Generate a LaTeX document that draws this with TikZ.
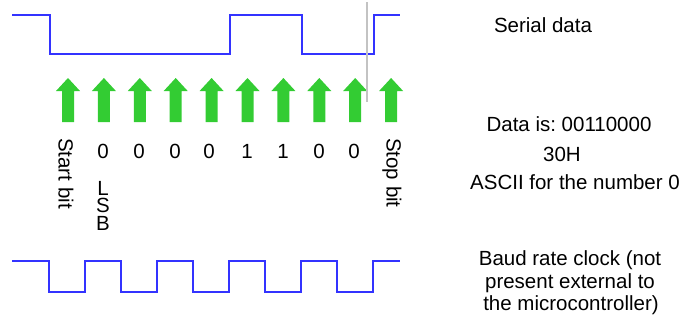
\documentclass[tikz,border=0pt]{standalone}
\usepackage{fontspec}
\setmainfont{Liberation Sans}
\usetikzlibrary{positioning}
\definecolor{wireblue}{RGB}{51,51,255}
\definecolor{arrowgreen}{RGB}{51,204,51}
\definecolor{markgray}{RGB}{195,195,195}
\frenchspacing

\begin{document}
\begin{tikzpicture}[x=1pt, y=-1pt, font=\fontsize{20.5}{24}\selectfont,
  wave/.style={draw=wireblue, line width=2pt},
  txt/.style={anchor=base, inner sep=0pt},
  sidetxt/.style={rotate=-90, anchor=west, inner sep=0pt}]
  \useasboundingbox (0,0) rectangle (681,322);

  % serial data line
  \draw[wave] (12,15) -- (50,15) -- (50,54) -- (230,54) -- (230,15) -- (302,15)
    -- (302,54) -- (374,54) -- (374,15) -- (400,15);

  % sampling arrows
  \foreach \i in {0,...,9}
    \fill[arrowgreen] ({68+35.9*\i},78) -- ++(12,13) -- ++(-6,0) -- ++(0,31)
      -- ++(-12,0) -- ++(0,-31) -- ++(-6,0) -- cycle;

  \draw[markgray, line width=1.5pt] (367,2) -- (367,102);

  % bit labels
  \node[sidetxt] (startbit) at (66,138) {Start bit};
  \foreach \x/\b [count=\n] in {103/0, 139/0, 175/0, 209/0, 247/1, 283/1, 319/0, 354/0}
    \node[txt] (bit\n) at (\x,158) {\b};
  \node[txt, align=center, font=\fontsize{20.5}{17.5}\selectfont] (lsb) at (103,230) {L\\S\\B};
  \node[sidetxt] (stopbit) at (392,138) {Stop bit};

  % baud rate clock
  \draw[wave] (12,261) foreach \k in {0,...,4} {
      -- (49+72*\k,261) -- (49+72*\k,292) -- (85+72*\k,292) -- (85+72*\k,261) }
    -- (400,261);

  % notes on the right
  \node[txt] (serialnote) at (543,32) {Serial data};
  \node[txt] (datanote) at (569,131) {Data is: 00110000};
  \node[txt] (hexnote) at (562,161) {30H};
  \node[txt] (asciinote) at (575,189) {ASCII for the number 0};
  \node[txt] (baudnote1) at (570,265) {Baud rate clock (not};
  \node[txt] (baudnote2) at (570,288) {present external to};
  \node[txt] (baudnote3) at (571,310) {the microcontroller)};
\end{tikzpicture}
\end{document}
